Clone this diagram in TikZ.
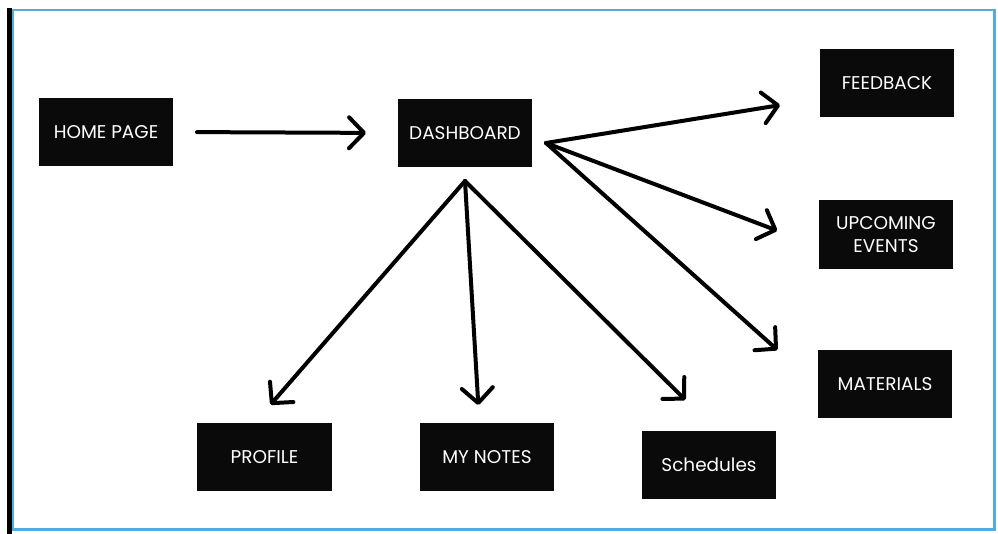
\documentclass[tikz,border=0pt]{standalone}
\usepackage{fontspec}
\setmainfont{Poppins}
\usetikzlibrary{arrows.meta}
\definecolor{cardblack}{RGB}{10,10,10}
\definecolor{frameblue}{RGB}{85,170,222}
\begin{document}
\begin{tikzpicture}[x=0.02cm,y=-0.02cm,line width=0.08cm]
    \tikzstyle{card}=[fill=cardblack,text=white,minimum width=2.7cm,minimum height=1.38cm,inner sep=2pt,align=center,font=\fontsize{10.5}{13.6}\selectfont]
    \tikzstyle{link}=[-{Straight Barb[length=0.3cm,width=0.62cm,round]},line cap=round,draw=black]
    \useasboundingbox (0,0) rectangle (998,534);
    % screen frame
    \fill[black] (7,8) rectangle (12,534);
    \draw[frameblue,line width=0.06cm] (13,10) rectangle (994,529);

    \foreach \name/\x/\y/\txt in {home/106/132/HOME PAGE, dash/465/133/DASHBOARD,
            feedback/887/83/FEEDBACK, upcoming/886/234.5/{UPCOMING\\EVENTS}, materials/885/384/MATERIALS,
            profile/264.5/457/PROFILE, notes/487/457/MY NOTES, schedules/709/465/Schedules}
        \node[card] (\name) at (\x,\y) {\txt};

    \coordinate (fan) at (546,143);
    \coordinate (drop) at (465,181);

    \draw[link,shorten <=0.43cm,shorten >=0.59cm] (home.east) -- (dash.west);
    \foreach \to/\gap in {feedback.193/0.76cm, upcoming.189/0.84cm, materials.west/1.02cm}
        \draw[link,shorten >=\gap] (fan) -- (\to);
    \foreach \to/\gap in {profile.102/0.42cm, notes.102/0.31cm, schedules.82/0.81cm}
        \draw[link,shorten >=\gap] (drop) -- (\to);
\end{tikzpicture}
\end{document}
